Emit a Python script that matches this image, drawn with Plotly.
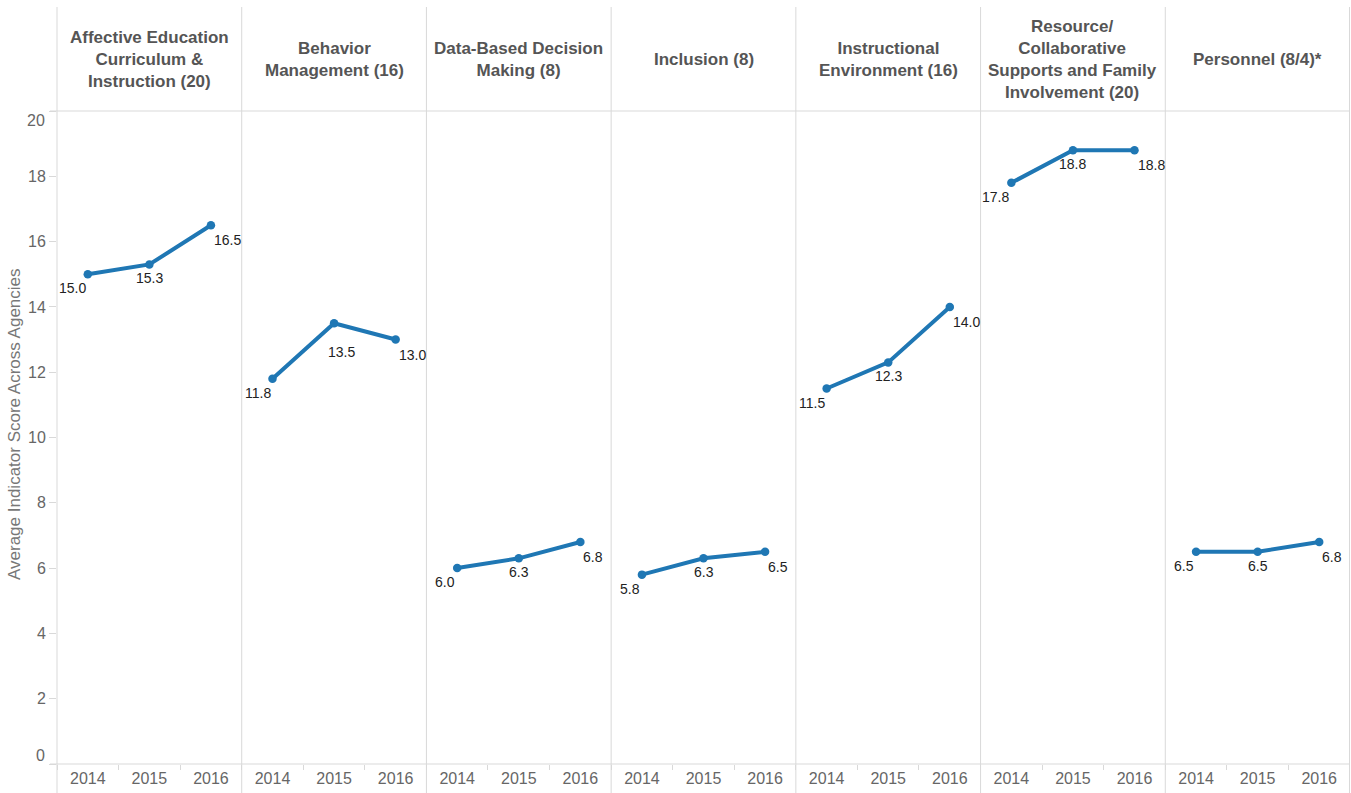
import plotly.graph_objects as go

# Indicator areas (panel headers) and years on each panel's x axis
areas = [
    "Affective Education<br>Curriculum &<br>Instruction (20)",
    "Behavior<br>Management (16)",
    "Data-Based Decision<br>Making (8)",
    "Inclusion (8)",
    "Instructional<br>Environment (16)",
    "Resource/<br>Collaborative<br>Supports and Family<br>Involvement (20)",
    "Personnel (8/4)*",
]
years = ["2014", "2015", "2016"]

# Average indicator score across agencies, per area and year
affective = [15.0, 15.3, 16.5]
behavior = [11.8, 13.5, 13.0]
data_based = [6.0, 6.3, 6.8]
inclusion = [5.8, 6.3, 6.5]
instructional = [11.5, 12.3, 14.0]
resource = [17.8, 18.8, 18.8]
personnel = [6.5, 6.5, 6.8]
series = [affective, behavior, data_based, inclusion, instructional, resource, personnel]

y_ticks = [0, 2, 4, 6, 8, 10, 12, 14, 16, 18, 20]

LINE_BLUE = "#1f77b4"
RULE = "#d9d9d9"
FONT = "Arial, Liberation Sans, sans-serif"

W, H = 1351, 793
ML, MR, MT, MB = 57, 1, 111, 29
PW = W - ML - MR
PH = H - MT - MB
n = len(areas)

# Value label placement by year position: (xanchor, xshift, yshift)
label_place = [("right", 0, -14), ("center", 0, -14), ("left", 1, -15)]
# Labels nudged further down where the line would run through them
label_override = {(1, 1): ("center", 7, -29)}

fig = go.Figure()
layout = {}
for i, vals in enumerate(series):
    ax = "x" if i == 0 else f"x{i+1}"
    fig.add_trace(go.Scatter(
        x=years, y=vals, xaxis=ax, yaxis="y",
        mode="lines+markers",
        line=dict(color=LINE_BLUE, width=4),
        marker=dict(color=LINE_BLUE, size=8.5),
        cliponaxis=False,
        showlegend=False,
        hoverinfo="skip",
    ))
    for j, v in enumerate(vals):
        xa, xs, ys = label_override.get((i, j), label_place[j])
        # category axes take the category index as annotation position
        fig.add_annotation(
            x=j, y=v, xref=ax, yref="y", text=f"{v:.1f}",
            showarrow=False, xanchor=xa, yanchor="middle",
            xshift=xs, yshift=ys,
            font=dict(family=FONT, size=14, color="#222222"),
        )
    key = "xaxis" if i == 0 else f"xaxis{i+1}"
    layout[key] = dict(
        domain=[i / n, (i + 1) / n], anchor="y", type="category",
        categoryorder="array", categoryarray=years,
        range=[-0.5, 2.5], showgrid=False, zeroline=False, showline=False,
        ticks="outside", tickson="boundaries", ticklen=5, tickcolor=RULE,
        ticklabelstandoff=3,
        tickfont=dict(family=FONT, size=16, color="#666666"),
        fixedrange=True,
    )
    fig.add_annotation(
        x=(i + 0.5) / n, y=(H - MB - 59) / PH, xref="paper", yref="paper",
        text=areas[i], showarrow=False, xanchor="center", yanchor="middle",
        font=dict(family=FONT, size=17, color="#555555", weight="bold"),
    )

fig.update_layout(**layout)

# End tick labels sit just inside the plot edges
tick_text = [str(t) if 0 < t < 20 else "" for t in y_ticks]
fig.update_layout(
    yaxis=dict(
        range=[0, 20], tickvals=y_ticks, ticktext=tick_text,
        showgrid=False, zeroline=False,
        showline=False, ticks="outside", ticklen=7, tickcolor=RULE,
        tickfont=dict(family=FONT, size=16, color="#666666"),
        fixedrange=True,
    ),
    width=W, height=H,
    margin=dict(l=ML, r=MR, t=MT, b=MB),
    paper_bgcolor="white", plot_bgcolor="white",
)
for t, shift in ((20, -9), (0, 9)):
    fig.add_annotation(
        x=-10 / PW, y=t, xref="paper", yref="y", text=str(t),
        showarrow=False, xanchor="right", yanchor="middle", yshift=shift,
        font=dict(family=FONT, size=16, color="#666666"),
    )

# Y axis title
fig.add_annotation(
    x=(15 - ML) / PW, y=(H - MB - 424) / PH, xref="paper", yref="paper",
    text="Average Indicator Score Across Agencies", textangle=-90,
    showarrow=False, xanchor="center", yanchor="middle",
    font=dict(family=FONT, size=17, color="#777777"),
)

# Panel separators running through header and axis rows
top = (H - MB - 7) / PH
bottom = -MB / PH
for i in range(n + 1):
    xp = i / n if i < n else (PW - 0.5) / PW
    fig.add_shape(type="line", xref="paper", yref="paper",
                  x0=xp, x1=xp, y0=bottom, y1=top,
                  line=dict(color=RULE, width=1))

# Header underline and bottom axis rule
for yp in (0, 1):
    fig.add_shape(type="line", xref="paper", yref="paper",
                  x0=-7 / PW, x1=1, y0=yp, y1=yp,
                  line=dict(color=RULE, width=1))

fig.write_html("out.html")
